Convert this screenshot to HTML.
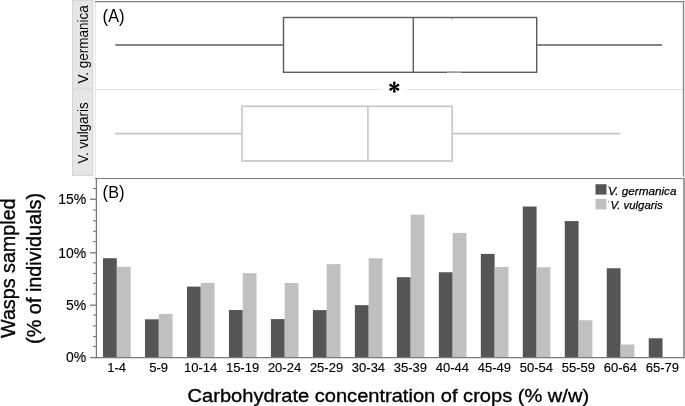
<!DOCTYPE html>
<html><head><meta charset="utf-8">
<style>
html,body{margin:0;padding:0;background:#fff;}
body{width:685px;height:406px;overflow:hidden;position:relative;font-family:"Liberation Sans",sans-serif;}
svg{position:absolute;left:0;top:0;will-change:transform;}
text{font-family:"Liberation Sans",sans-serif;fill:#000;}
</style></head><body>
<svg width="685" height="406" viewBox="0 0 685 406">
<rect x="72.5" y="0.5" width="20" height="87.5" fill="#e6e6e6" stroke="#d6d6d6" stroke-width="1"/>
<rect x="72.5" y="89" width="20" height="86.5" fill="#e6e6e6" stroke="#d6d6d6" stroke-width="1"/>
<text transform="translate(87.9,83.4) rotate(-90)" font-size="14.3" textLength="78.2" lengthAdjust="spacingAndGlyphs">V. germanica</text>
<text transform="translate(87.9,163.6) rotate(-90)" font-size="14.3" textLength="61.2" lengthAdjust="spacingAndGlyphs">V. vulgaris</text>
<rect x="92.9" y="0" width="2.3" height="176.6" fill="#f4f4f4"/>
<line x1="95.5" y1="2" x2="95.5" y2="176.6" stroke="#ebebeb" stroke-width="1"/>
<line x1="95" y1="1.6" x2="684.3" y2="1.6" stroke="#7c7c7c" stroke-width="1.3"/>
<line x1="682.5" y1="2" x2="682.5" y2="176.6" stroke="#ececec" stroke-width="1"/><line x1="683.6" y1="1" x2="683.6" y2="176.6" stroke="#888" stroke-width="1.3"/>
<line x1="96" y1="89.5" x2="683" y2="89.5" stroke="#e2e2e2" stroke-width="1"/>
<rect x="382" y="84" width="25" height="10" fill="#fff"/>
<g fill="#000" transform="translate(394.3,87.2)"><path d="M-0.55,0 L-1.35,-4.25 A1.35,1.35 0 0 1 1.35,-4.25 L0.55,0 Z" transform="rotate(0)"/><path d="M-0.55,0 L-1.35,-4.25 A1.35,1.35 0 0 1 1.35,-4.25 L0.55,0 Z" transform="rotate(60)"/><path d="M-0.55,0 L-1.35,-4.25 A1.35,1.35 0 0 1 1.35,-4.25 L0.55,0 Z" transform="rotate(120)"/><path d="M-0.55,0 L-1.35,-4.25 A1.35,1.35 0 0 1 1.35,-4.25 L0.55,0 Z" transform="rotate(180)"/><path d="M-0.55,0 L-1.35,-4.25 A1.35,1.35 0 0 1 1.35,-4.25 L0.55,0 Z" transform="rotate(240)"/><path d="M-0.55,0 L-1.35,-4.25 A1.35,1.35 0 0 1 1.35,-4.25 L0.55,0 Z" transform="rotate(300)"/><circle r="1"/></g>
<text x="102.6" y="21.7" font-size="17.6" textLength="22" lengthAdjust="spacingAndGlyphs"><tspan font-size="18.4">(</tspan>A<tspan font-size="18.4">)</tspan></text>
<g stroke="#5c5c5c" stroke-width="1.4" fill="none">
<line x1="115.3" y1="45" x2="283.5" y2="45"/>
<line x1="536.7" y1="45" x2="662" y2="45"/>
<rect x="283.5" y="17.5" width="253.2" height="54.8"/>
<line x1="413.3" y1="17.5" x2="413.3" y2="72.3"/>
</g>
<line x1="447" y1="72.3" x2="461.5" y2="72.3" stroke="#a0a0a0" stroke-width="1.4"/>
<rect x="451" y="18.2" width="2" height="1.2" fill="#aaa"/>
<g stroke="#c6c6c6" stroke-width="1.6" fill="none">
<line x1="115.3" y1="133.6" x2="242.0" y2="133.6"/>
<line x1="452.2" y1="133.6" x2="619.8" y2="133.6"/>
<rect x="242.0" y="106.3" width="210.2" height="54.7"/>
<line x1="367.9" y1="106.3" x2="367.9" y2="161.0"/>
</g>
<rect x="103.00" y="258.22" width="13.8" height="99.38" fill="#555555"/>
<rect x="116.80" y="266.87" width="13.8" height="90.73" fill="#c0c0c0"/>
<text x="116.60" y="372.4" font-size="13" stroke="#000" stroke-width="0.15" text-anchor="middle">1-4</text>
<rect x="144.98" y="319.30" width="13.8" height="38.30" fill="#555555"/>
<rect x="158.78" y="313.92" width="13.8" height="43.68" fill="#c0c0c0"/>
<text x="158.58" y="372.4" font-size="13" stroke="#000" stroke-width="0.15" text-anchor="middle">5-9</text>
<rect x="186.96" y="286.60" width="13.8" height="71.00" fill="#555555"/>
<rect x="200.76" y="282.91" width="13.8" height="74.69" fill="#c0c0c0"/>
<text x="200.56" y="372.4" font-size="13" stroke="#000" stroke-width="0.15" text-anchor="middle">10-14</text>
<rect x="228.94" y="310.02" width="13.8" height="47.58" fill="#555555"/>
<rect x="242.74" y="273.20" width="13.8" height="84.40" fill="#c0c0c0"/>
<text x="242.54" y="372.4" font-size="13" stroke="#000" stroke-width="0.15" text-anchor="middle">15-19</text>
<rect x="270.92" y="319.09" width="13.8" height="38.51" fill="#555555"/>
<rect x="284.72" y="283.01" width="13.8" height="74.59" fill="#c0c0c0"/>
<text x="284.52" y="372.4" font-size="13" stroke="#000" stroke-width="0.15" text-anchor="middle">20-24</text>
<rect x="312.90" y="310.12" width="13.8" height="47.48" fill="#555555"/>
<rect x="326.70" y="264.13" width="13.8" height="93.47" fill="#c0c0c0"/>
<text x="326.50" y="372.4" font-size="13" stroke="#000" stroke-width="0.15" text-anchor="middle">25-29</text>
<rect x="354.88" y="305.17" width="13.8" height="52.43" fill="#555555"/>
<rect x="368.68" y="258.22" width="13.8" height="99.38" fill="#c0c0c0"/>
<text x="368.48" y="372.4" font-size="13" stroke="#000" stroke-width="0.15" text-anchor="middle">30-34</text>
<rect x="396.86" y="277.21" width="13.8" height="80.39" fill="#555555"/>
<rect x="410.66" y="214.65" width="13.8" height="142.95" fill="#c0c0c0"/>
<text x="410.46" y="372.4" font-size="13" stroke="#000" stroke-width="0.15" text-anchor="middle">35-39</text>
<rect x="438.84" y="272.25" width="13.8" height="85.35" fill="#555555"/>
<rect x="452.64" y="232.90" width="13.8" height="124.70" fill="#c0c0c0"/>
<text x="452.44" y="372.4" font-size="13" stroke="#000" stroke-width="0.15" text-anchor="middle">40-44</text>
<rect x="480.82" y="253.89" width="13.8" height="103.71" fill="#555555"/>
<rect x="494.62" y="266.98" width="13.8" height="90.62" fill="#c0c0c0"/>
<text x="494.42" y="372.4" font-size="13" stroke="#000" stroke-width="0.15" text-anchor="middle">45-49</text>
<rect x="522.80" y="206.52" width="13.8" height="151.08" fill="#555555"/>
<rect x="536.60" y="267.19" width="13.8" height="90.41" fill="#c0c0c0"/>
<text x="536.40" y="372.4" font-size="13" stroke="#000" stroke-width="0.15" text-anchor="middle">50-54</text>
<rect x="564.78" y="221.08" width="13.8" height="136.52" fill="#555555"/>
<rect x="578.58" y="320.25" width="13.8" height="37.35" fill="#c0c0c0"/>
<text x="578.38" y="372.4" font-size="13" stroke="#000" stroke-width="0.15" text-anchor="middle">55-59</text>
<rect x="606.76" y="268.24" width="13.8" height="89.36" fill="#555555"/>
<rect x="620.56" y="344.52" width="13.8" height="13.08" fill="#c0c0c0"/>
<text x="620.36" y="372.4" font-size="13" stroke="#000" stroke-width="0.15" text-anchor="middle">60-64</text>
<rect x="648.74" y="338.29" width="13.8" height="19.31" fill="#555555"/>
<text x="662.34" y="372.4" font-size="13" stroke="#000" stroke-width="0.15" text-anchor="middle">65-79</text>
<line x1="93" y1="188.50" x2="96.4" y2="188.50" stroke="#7a7a7a" stroke-width="1.1"/>
<line x1="90" y1="199.30" x2="96.4" y2="199.30" stroke="#7a7a7a" stroke-width="1.3"/>
<text x="86.3" y="204.15" font-size="14" stroke="#000" stroke-width="0.15" text-anchor="end">15%</text>
<line x1="93" y1="210.00" x2="96.4" y2="210.00" stroke="#7a7a7a" stroke-width="1.1"/>
<line x1="93" y1="220.80" x2="96.4" y2="220.80" stroke="#7a7a7a" stroke-width="1.1"/>
<line x1="93" y1="231.30" x2="96.4" y2="231.30" stroke="#7a7a7a" stroke-width="1.1"/>
<line x1="93" y1="241.70" x2="96.4" y2="241.70" stroke="#7a7a7a" stroke-width="1.1"/>
<line x1="90" y1="252.80" x2="96.4" y2="252.80" stroke="#7a7a7a" stroke-width="1.3"/>
<text x="86.3" y="257.65" font-size="14" stroke="#000" stroke-width="0.15" text-anchor="end">10%</text>
<line x1="93" y1="262.80" x2="96.4" y2="262.80" stroke="#7a7a7a" stroke-width="1.1"/>
<line x1="93" y1="273.50" x2="96.4" y2="273.50" stroke="#7a7a7a" stroke-width="1.1"/>
<line x1="93" y1="283.20" x2="96.4" y2="283.20" stroke="#7a7a7a" stroke-width="1.1"/>
<line x1="93" y1="294.10" x2="96.4" y2="294.10" stroke="#7a7a7a" stroke-width="1.1"/>
<line x1="90" y1="305.20" x2="96.4" y2="305.20" stroke="#7a7a7a" stroke-width="1.3"/>
<text x="86.3" y="310.05" font-size="14" stroke="#000" stroke-width="0.15" text-anchor="end">5%</text>
<line x1="93" y1="315.00" x2="96.4" y2="315.00" stroke="#7a7a7a" stroke-width="1.1"/>
<line x1="93" y1="325.90" x2="96.4" y2="325.90" stroke="#7a7a7a" stroke-width="1.1"/>
<line x1="93" y1="336.60" x2="96.4" y2="336.60" stroke="#7a7a7a" stroke-width="1.1"/>
<line x1="93" y1="346.50" x2="96.4" y2="346.50" stroke="#7a7a7a" stroke-width="1.1"/>
<text x="86.3" y="362.35" font-size="14" stroke="#000" stroke-width="0.15" text-anchor="end">0%</text>
<line x1="95" y1="178.5" x2="684" y2="178.5" stroke="#7a7a7a" stroke-width="1.2"/>
<line x1="684" y1="178" x2="684" y2="358.3" stroke="#9c9c9c" stroke-width="2"/>
<line x1="96.4" y1="178" x2="96.4" y2="358.2" stroke="#7a7a7a" stroke-width="1.3"/>
<line x1="90" y1="357.6" x2="684" y2="357.6" stroke="#7a7a7a" stroke-width="1.3"/>
<text x="102.6" y="197.7" font-size="17.4" textLength="22" lengthAdjust="spacingAndGlyphs"><tspan font-size="18">(</tspan>B<tspan font-size="18">)</tspan></text>
<rect x="595.5" y="184.2" width="11" height="10.4" fill="#555555"/>
<rect x="595.5" y="198.8" width="11" height="10.6" fill="#c0c0c0"/>
<text x="608.3" y="195.2" font-size="11.5" font-style="italic" stroke="#000" stroke-width="0.25" textLength="68.2" lengthAdjust="spacingAndGlyphs">V. germanica</text>
<text x="610.5" y="209.4" font-size="11.5" font-style="italic" stroke="#000" stroke-width="0.25" textLength="52.2" lengthAdjust="spacingAndGlyphs">V. vulgaris</text>
<line x1="608.1" y1="186.1" x2="608.8" y2="188" stroke="#666" stroke-width="0.8"/>
<line x1="608.4" y1="200.6" x2="608.5" y2="202.3" stroke="#888" stroke-width="0.8"/>
<text x="187.6" y="401.7" font-size="18.9" stroke="#000" stroke-width="0.35" textLength="401.5" lengthAdjust="spacingAndGlyphs">Carbohydrate concentration of crops (% w/w)</text>
<text transform="translate(14.8,338.0) rotate(-90)" font-size="19.3" stroke="#000" stroke-width="0.35" textLength="139.6" lengthAdjust="spacingAndGlyphs">Wasps sampled</text>
<text transform="translate(41.3,343.9) rotate(-90)" font-size="19.3" stroke="#000" stroke-width="0.35" textLength="151" lengthAdjust="spacingAndGlyphs">(% of individuals)</text>
</svg>
</body></html>
